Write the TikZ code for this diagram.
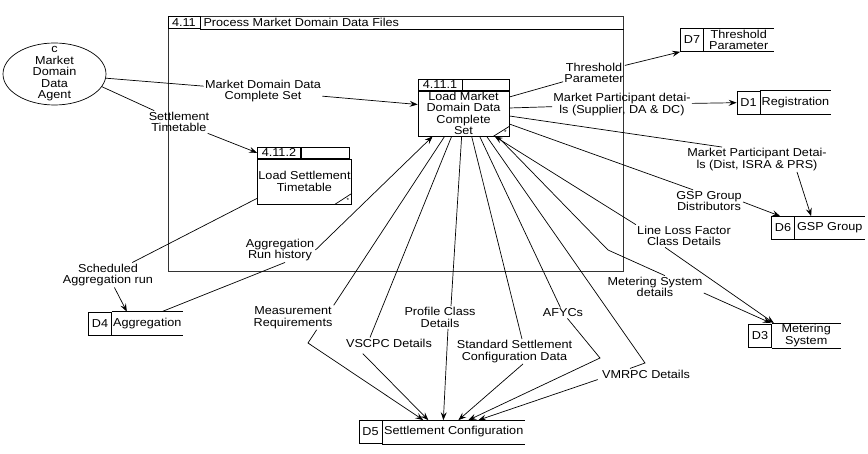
\documentclass[tikz,border=0pt]{standalone}
\usepackage{fontspec}
\setmainfont{Liberation Sans}[FakeStretch=1.1]
\usetikzlibrary{arrows.meta,positioning,shapes.geometric}

\tikzset{
  big/.style={draw=black!80, line width=1pt, minimum width=455pt, minimum height=255pt},
  proc/.style={draw, minimum width=91pt, minimum height=45pt, align=center, inner sep=1pt},
  hdr/.style={draw, minimum height=11pt, inner sep=1pt, anchor=south west},
  cornerstar/.style={font=\fontsize{6}{6}\selectfont, inner sep=0pt},
  agent/.style={draw, ellipse, minimum width=103pt, minimum height=62pt, inner xsep=0pt, inner ysep=-8pt, align=center},
  storeid/.style={draw, minimum width=23pt, minimum height=23pt, inner sep=1pt},
  storename/.style={minimum height=23pt, inner sep=1pt, align=center,
    append after command={(\tikzlastnode.north west) edge (\tikzlastnode.north east)
                          (\tikzlastnode.south west) edge (\tikzlastnode.south east)}},
  flowlab/.style={align=center, inner sep=1pt},
  flow/.style={->, >={Stealth[length=8pt, width=6pt, inset=3pt]}}
}

\begin{document}
\begin{tikzpicture}[x=1pt, y=-1pt, line width=0.7pt, font=\fontsize{11.5}{11.5}\selectfont]
\useasboundingbox (0,0) rectangle (868,454);

\node[big] (p0) at (395.5,144.5) {};
\node[hdr, anchor=north west, minimum width=32pt, minimum height=12pt] (p0id) at (p0.north west) {4.11};
\node[anchor=west, inner sep=3pt] (p0t) at (p0id.east) {Process Market Domain Data Files};
\draw (p0id.south east) -- (p0id.south east -| p0.east);

\node[proc] (p1) at (463.5,113.5) {Load Market\\Domain Data\\Complete\\Set};
\node[hdr, minimum width=44pt] (p1id) at (p1.north west) {4.11.1};
\node[hdr, minimum width=47pt] (p1h) at (p1id.south east) {};
\draw ([xshift=-16pt]p1.south east) -- ([yshift=10pt]p1.south east);
\node[cornerstar] (p1c) at ([shift={(-4pt,4pt)}]p1.south east) {*};

\node[proc] (p2) at (304.5,181.5) {Load Settlement\\Timetable};
\node[hdr, minimum width=43pt] (p2id) at (p2.north west) {4.11.2};
\node[hdr, minimum width=48pt] (p2h) at (p2id.south east) {};
\draw ([xshift=-17pt]p2.south east) -- ([yshift=11pt]p2.south east);
\node[cornerstar] (p2c) at ([shift={(-4pt,4pt)}]p2.south east) {*};

\node[agent] (agent) at (54.5,74) {c\\Market\\Domain\\Data\\Agent};

\node[storeid] (d7) at (692,40) {D7};
\node[storename, right=0pt of d7, minimum width=69pt] (d7n) {Threshold\\Parameter};
\node[storeid] (d1) at (748.5,102.5) {D1};
\node[storename, right=0pt of d1, minimum width=68pt] (d1n) {Registration};
\node[storeid] (d6) at (783,228) {D6};
\node[storename, right=0pt of d6, minimum width=69pt] (d6n) {GSP Group};
\node[storeid] (d3) at (760,335.5) {D3};
\node[storename, right=0pt of d3, minimum width=68pt] (d3n) {Metering\\System};
\node[storeid] (d4) at (100,323.5) {D4};
\node[storename, right=0pt of d4, minimum width=68pt] (d4n) {Aggregation};
\node[storeid] (d5) at (370.5,432) {D5};
\node[storename, right=0pt of d5, minimum width=142pt] (d5n) {Settlement Configuration};

\node[flowlab] (mdd) at (263,91) {Market Domain Data\\Complete Set};
\node[flowlab] (stt) at (179,122) {Settlement\\Timetable};
\node[flowlab] (sar) at (108,275) {Scheduled\\Aggregation run};
\node[flowlab] (arh) at (280,250) {Aggregation\\Run history};
\node[flowlab] (thr) at (594,73) {Threshold\\Parameter};
\node[flowlab] (mps) at (622,104.5) {Market Participant detai-\\ls (Supplier, DA \& DC)};
\node[flowlab] (mpd) at (757,159.5) {Market Participant Detai-\\ls (Dist, ISRA \& PRS)};
\node[flowlab] (gsp) at (709,201) {GSP Group\\Distributors};
\node[flowlab] (llf) at (684,236) {Line Loss Factor\\Class Details};
\node[flowlab] (msd) at (655,287) {Metering System\\details};
\node[flowlab] (mrq) at (293,317.5) {Measurement\\Requirements};
\node[flowlab] (vsc) at (389,343) {VSCPC Details};
\node[flowlab] (pcd) at (440,317.5) {Profile Class\\Details};
\node[flowlab] (ssc) at (514.5,351.5) {Standard Settlement\\Configuration Data};
\node[flowlab] (afy) at (563,313) {AFYCs};
\node[flowlab] (vmr) at (646,374) {VMRPC Details};

\coordinate (msdbend) at (608,250);
\coordinate (mrqbend) at (308,343);
\coordinate (afybend) at (600,358);
\coordinate (vmrbend) at (645,363);

\draw[flow] (agent) -- (mdd) -- ([yshift=9pt]p1.west);
\draw[flow] (agent.-15) -- (stt) -- (p2id.west);
\draw[flow] ([yshift=6pt]p2.south west) -- (sar) -- ([xshift=15pt]d4n.north west);
\draw[flow] ([xshift=50pt]d4n.north west) -- ([xshift=5pt]arh.south)
  (arh.east) -- ([xshift=15pt]p1.south west);
\draw[flow] ([yshift=16.5pt]p1.east) -- (thr) -- (d7.south west);
\draw[flow] ([yshift=5.5pt]p1.east) -- (mps) -- (d1);
\draw[flow] ([yshift=-2.5pt]p1.east) -- ([xshift=-35pt]mpd.north)
  ([xshift=40pt]mpd.south) -- ([xshift=40pt]d6.north west);
\draw[flow] ([yshift=-10.5pt]p1.east) -- ([xshift=-16pt]gsp.north)
  ([yshift=-1pt]gsp.east) -- ([xshift=9pt]d6.north west);
\draw[flow] (llf.north west) -- ([xshift=77pt]p1.south west);
\draw[flow] ([xshift=-19pt]llf.south) -- ([xshift=2pt]d3n.north west);
\draw[flow] ([xshift=-12pt]p1.south east) -- (msdbend) -- ([xshift=10pt]msd.north)
  ([yshift=-6pt]msd.east) -- ([xshift=-1pt]d3n.north west);
\draw[flow] ([xshift=27pt]p1.south west) -- (mrq.north east)
  ([xshift=-17pt]mrq.south east) -- (mrqbend) -- ([xshift=41pt]d5n.north west);
\draw[flow] ([xshift=34pt]p1.south west) -- ([xshift=-19pt]vsc.north)
  ([shift={(18pt,-5pt)}]vsc.south west) -- ([xshift=46pt]d5n.north west);
\draw[flow] ([xshift=44pt]p1.south west) -- ([xshift=11pt]pcd.north)
  ([xshift=8pt]pcd.south) -- ([xshift=61pt]d5n.north west);
\draw[flow] ([xshift=54pt]p1.south west) -- ([xshift=7.5pt]ssc.north)
  ([xshift=8.5pt]ssc.south) -- ([xshift=76pt]d5n.north west);
\draw[flow] ([xshift=62pt]p1.south west) -- (afy) -- (afybend) -- ([xshift=86pt]d5n.north west);
\draw[flow] ([xshift=69pt]p1.south west) -- (vmrbend) -- ([xshift=-16pt]vmr.north)
  ([xshift=-3pt]vmr.south west) -- ([xshift=96pt]d5n.north west);
\end{tikzpicture}
\end{document}
